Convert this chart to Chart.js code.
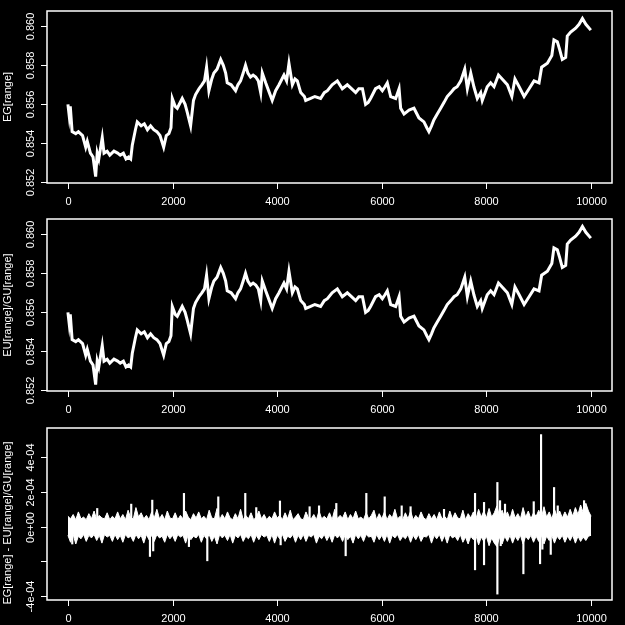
<!DOCTYPE html>
<html>
<head>
<meta charset="utf-8">
<script src="https://cdn.jsdelivr.net/npm/chart.js@4.4.1/dist/chart.umd.min.js"></script>
<style>
  html, body { margin: 0; padding: 0; background: #000; }
  canvas { display: block; }
</style>
</head>
<body>
<canvas id="c1" width="625" height="208"></canvas>
<canvas id="c2" width="625" height="209"></canvas>
<canvas id="c3" width="625" height="208"></canvas>
<script>
// ---- data ----
const xTickValues = [0, 2000, 4000, 6000, 8000, 10000];
const xTickLabels = ['0', '2000', '4000', '6000', '8000', '10000'];
const rateTickValues = [0.852, 0.854, 0.856, 0.858, 0.860];
const rateTickLabels = ['0.852', '0.854', '0.856', '0.858', '0.860'];
const diffTickValues = [-4e-4, -2e-4, 0, 2e-4, 4e-4];
const diffTickLabels = ['-4e-04', '', '0e+00', '2e-04', '4e-04'];

const egIndex = [0,25,45,80,150,200,280,340,370,430,480,530,560,590,656,690,750,800,880,950,
  1000,1060,1110,1160,1200,1230,1290,1325,1400,1460,1520,1580,1640,1700,1760,1830,1880,1930,1970,1995,
  2050,2090,2185,2240,2280,2345,2400,2440,2505,2560,2610,2650,2695,2750,2790,2850,2920,2970,3015,3045,
  3120,3205,3250,3300,3350,3395,3440,3490,3540,3590,3640,3685,3715,3780,3850,3905,3970,4035,4130,4180,
  4225,4290,4340,4385,4450,4520,4545,4640,4720,4830,4900,4960,5050,5150,5245,5340,5420,5500,5560,5630,
  5690,5740,5785,5880,5950,6010,6060,6105,6170,6265,6330,6360,6425,6520,6615,6710,6805,6860,6900,6950,
  6995,7060,7125,7190,7250,7320,7380,7440,7510,7585,7635,7700,7760,7825,7890,7920,8015,8080,8145,8230,
  8335,8400,8485,8545,8625,8720,8815,8910,9005,9055,9165,9250,9290,9355,9400,9450,9515,9545,9610,9705,
  9770,9835,9900,9995];
const egValues = [0.8560,0.8554,0.8559,0.8546,0.8545,0.8546,0.8544,0.8538,0.8541,0.8535,0.8533,0.8523,0.8535,0.8532,0.8543,0.8535,0.8536,0.8534,0.8536,0.8535,
  0.8534,0.8535,0.8532,0.8533,0.8532,0.8539,0.8547,0.8551,0.8549,0.8550,0.8547,0.8549,0.8547,0.8546,0.8544,0.8538,0.8544,0.8545,0.8548,0.8563,
  0.8559,0.8558,0.8563,0.8560,0.8556,0.8549,0.8562,0.8565,0.8568,0.8570,0.8572,0.8579,0.8567,0.8573,0.8576,0.8578,0.8583,0.8580,0.8576,0.8571,
  0.8570,0.8567,0.8570,0.8572,0.8576,0.8580,0.8576,0.8574,0.8575,0.8574,0.8572,0.8566,0.8576,0.8571,0.8566,0.8562,0.8567,0.8570,0.8575,0.8572,
  0.8581,0.8570,0.8573,0.8572,0.8566,0.8564,0.8562,0.8563,0.8564,0.8563,0.8566,0.8567,0.8570,0.8572,0.8568,0.8570,0.8568,0.8566,0.8568,0.8568,
  0.8560,0.8561,0.8563,0.8568,0.8569,0.8567,0.8569,0.8571,0.8564,0.8563,0.8568,0.8558,0.8555,0.8557,0.8558,0.8553,0.8551,0.8548,0.8546,0.8549,
  0.8552,0.8555,0.8558,0.8561,0.8564,0.8566,0.8568,0.8569,0.8572,0.8578,0.8568,0.8576,0.8569,0.8563,0.8566,0.8562,0.8569,0.8571,0.8569,0.8575,
  0.8572,0.8570,0.8564,0.8573,0.8569,0.8564,0.8568,0.8572,0.8571,0.8579,0.8581,0.8585,0.8593,0.8592,0.8588,0.8583,0.8584,0.8595,0.8597,0.8599,
  0.8601,0.8604,0.8601,0.8598];
// EU/GU ratio: visually identical to EG in the picture
const euGuValues = egValues.slice();

const bandIndex = [0,50,100,150,200,250,300,350,400,450,500,550,600,650,700,750,800,850,900,950,
  1000,1050,1100,1150,1200,1250,1300,1350,1400,1450,1500,1550,1600,1650,1700,1750,1800,1850,1900,1950,
  2000,2050,2100,2150,2200,2250,2300,2350,2400,2450,2500,2550,2600,2650,2700,2750,2800,2850,2900,2950,
  3000,3050,3100,3150,3200,3250,3300,3350,3400,3450,3500,3550,3600,3650,3700,3750,3800,3850,3900,3950,
  4000,4050,4100,4150,4200,4250,4300,4350,4400,4450,4500,4550,4600,4650,4700,4750,4800,4850,4900,4950,
  5000,5050,5100,5150,5200,5250,5300,5350,5400,5450,5500,5550,5600,5650,5700,5750,5800,5850,5900,5950,
  6000,6050,6100,6150,6200,6250,6300,6350,6400,6450,6500,6550,6600,6650,6700,6750,6800,6850,6900,6950,
  7000,7050,7100,7150,7200,7250,7300,7350,7400,7450,7500,7550,7600,7650,7700,7750,7800,7850,7900,7950,
  8000,8050,8100,8150,8200,8250,8300,8350,8400,8450,8500,8550,8600,8650,8700,8750,8800,8850,8900,8950,
  9000,9050,9100,9150,9200,9250,9300,9350,9400,9450,9500,9550,9600,9650,9700,9750,9800,9850,9900,9950,10000];
const bandUpper = [
  0.60e-4,0.45e-4,0.70e-4,0.40e-4,0.85e-4,0.45e-4,0.55e-4,0.40e-4,0.75e-4,0.45e-4,
  0.90e-4,0.40e-4,0.65e-4,0.50e-4,0.45e-4,0.80e-4,0.40e-4,0.60e-4,0.45e-4,0.85e-4,
  0.45e-4,0.70e-4,0.40e-4,0.95e-4,0.50e-4,0.45e-4,1.10e-4,0.55e-4,0.80e-4,0.45e-4,
  0.65e-4,0.40e-4,0.85e-4,0.50e-4,1.00e-4,0.45e-4,0.70e-4,0.40e-4,0.90e-4,0.50e-4,
  0.45e-4,0.80e-4,0.40e-4,0.65e-4,0.45e-4,0.90e-4,0.55e-4,0.40e-4,0.75e-4,0.50e-4,
  0.85e-4,0.45e-4,0.60e-4,0.40e-4,0.95e-4,0.50e-4,0.45e-4,1.05e-4,0.40e-4,0.70e-4,
  0.45e-4,0.85e-4,0.50e-4,0.40e-4,0.75e-4,0.45e-4,1.00e-4,0.40e-4,0.65e-4,0.45e-4,
  0.80e-4,0.40e-4,0.55e-4,0.90e-4,0.45e-4,0.70e-4,0.40e-4,0.60e-4,0.45e-4,0.85e-4,
  0.50e-4,0.65e-4,0.40e-4,0.80e-4,0.45e-4,0.95e-4,0.40e-4,0.55e-4,0.75e-4,0.45e-4,
  0.40e-4,0.85e-4,0.50e-4,0.45e-4,0.70e-4,0.40e-4,0.90e-4,0.45e-4,0.60e-4,0.45e-4,
  0.80e-4,0.40e-4,1.00e-4,0.45e-4,0.65e-4,0.50e-4,0.85e-4,0.40e-4,0.70e-4,0.45e-4,
  0.90e-4,0.45e-4,0.55e-4,0.40e-4,0.80e-4,0.45e-4,0.65e-4,0.95e-4,0.40e-4,0.75e-4,
  0.45e-4,0.85e-4,0.40e-4,0.70e-4,0.50e-4,1.00e-4,0.45e-4,0.60e-4,0.40e-4,0.80e-4,
  0.45e-4,0.90e-4,0.40e-4,0.65e-4,0.45e-4,0.85e-4,0.50e-4,0.40e-4,0.75e-4,0.45e-4,
  0.70e-4,0.40e-4,0.85e-4,0.45e-4,0.60e-4,0.40e-4,0.90e-4,0.45e-4,0.80e-4,0.50e-4,
  0.45e-4,0.95e-4,0.40e-4,0.75e-4,0.50e-4,0.85e-4,0.45e-4,1.00e-4,0.55e-4,0.90e-4,
  0.50e-4,1.05e-4,0.55e-4,0.80e-4,1.20e-4,0.60e-4,0.95e-4,0.50e-4,0.85e-4,0.45e-4,
  1.00e-4,0.50e-4,0.75e-4,0.45e-4,1.10e-4,0.55e-4,0.90e-4,0.45e-4,0.80e-4,0.60e-4,
  0.95e-4,0.50e-4,1.15e-4,0.55e-4,0.85e-4,0.45e-4,1.00e-4,0.60e-4,0.90e-4,0.50e-4,
  0.85e-4,0.55e-4,1.00e-4,0.60e-4,1.10e-4,0.70e-4,1.25e-4,0.80e-4,1.35e-4,0.90e-4,
  0.60e-4];
const bandLower = [
  -0.50e-4,-0.90e-4,-0.45e-4,-1.00e-4,-0.55e-4,-0.70e-4,-0.45e-4,-0.85e-4,-0.50e-4,-0.65e-4,
  -0.45e-4,-0.80e-4,-0.50e-4,-0.95e-4,-0.45e-4,-0.60e-4,-0.50e-4,-0.85e-4,-0.45e-4,-0.75e-4,
  -0.50e-4,-0.90e-4,-0.45e-4,-0.65e-4,-0.55e-4,-0.85e-4,-0.45e-4,-0.70e-4,-0.50e-4,-0.95e-4,
  -0.45e-4,-0.75e-4,-0.50e-4,-0.85e-4,-0.45e-4,-0.65e-4,-0.55e-4,-0.90e-4,-0.45e-4,-0.70e-4,
  -0.50e-4,-0.85e-4,-0.45e-4,-0.60e-4,-0.50e-4,-0.95e-4,-0.45e-4,-0.75e-4,-0.55e-4,-0.65e-4,
  -0.45e-4,-0.90e-4,-0.50e-4,-0.70e-4,-0.45e-4,-0.85e-4,-0.55e-4,-1.00e-4,-0.45e-4,-0.65e-4,
  -0.50e-4,-0.80e-4,-0.45e-4,-0.95e-4,-0.50e-4,-0.65e-4,-0.45e-4,-0.85e-4,-0.55e-4,-0.70e-4,
  -0.45e-4,-0.90e-4,-0.50e-4,-0.75e-4,-0.45e-4,-0.60e-4,-0.50e-4,-0.85e-4,-0.45e-4,-0.95e-4,
  -0.50e-4,-0.70e-4,-0.45e-4,-0.85e-4,-0.55e-4,-0.65e-4,-0.45e-4,-0.90e-4,-0.50e-4,-0.75e-4,
  -0.45e-4,-0.85e-4,-0.50e-4,-0.60e-4,-0.45e-4,-0.95e-4,-0.55e-4,-0.70e-4,-0.45e-4,-0.80e-4,
  -0.50e-4,-0.90e-4,-0.45e-4,-0.65e-4,-0.50e-4,-0.85e-4,-0.45e-4,-0.75e-4,-0.55e-4,-0.95e-4,
  -0.45e-4,-0.70e-4,-0.50e-4,-0.85e-4,-0.45e-4,-0.60e-4,-0.55e-4,-0.90e-4,-0.45e-4,-0.75e-4,
  -0.50e-4,-0.85e-4,-0.45e-4,-0.95e-4,-0.50e-4,-0.65e-4,-0.45e-4,-0.80e-4,-0.55e-4,-0.70e-4,
  -0.45e-4,-0.90e-4,-0.50e-4,-0.75e-4,-0.45e-4,-0.85e-4,-0.55e-4,-0.60e-4,-0.45e-4,-0.95e-4,
  -0.50e-4,-0.70e-4,-0.45e-4,-0.85e-4,-0.50e-4,-0.95e-4,-0.45e-4,-0.65e-4,-0.55e-4,-0.80e-4,
  -0.45e-4,-0.90e-4,-0.60e-4,-1.00e-4,-0.55e-4,-0.75e-4,-0.50e-4,-1.05e-4,-0.60e-4,-0.85e-4,
  -0.55e-4,-1.10e-4,-0.65e-4,-0.95e-4,-1.15e-4,-0.60e-4,-1.00e-4,-0.55e-4,-0.85e-4,-0.50e-4,
  -0.95e-4,-0.55e-4,-0.80e-4,-0.50e-4,-1.00e-4,-0.55e-4,-0.75e-4,-0.50e-4,-0.90e-4,-0.55e-4,
  -0.85e-4,-0.50e-4,-1.00e-4,-0.55e-4,-0.80e-4,-0.50e-4,-0.95e-4,-0.55e-4,-0.75e-4,-0.50e-4,
  -0.90e-4,-0.55e-4,-0.80e-4,-0.50e-4,-0.95e-4,-0.55e-4,-0.85e-4,-0.60e-4,-0.80e-4,-0.55e-4,
  -0.50e-4];

const spikeIndex = [83,560,1210,1568,1612,1630,2218,2313,2664,2874,3390,3600,4053,4066,4620,4800,5130,5309,5704,6055,
  6380,6550,7189,7782,7782,7954,7954,8209,8209,8260,8273,8355,8706,8904,9025,9044,9069,9229,9293,9363,9866];
const spikeValues = [-1.00e-4,1.05e-4,1.30e-4,-1.72e-4,1.53e-4,-1.40e-4,1.92e-4,-1.15e-4,-1.97e-4,1.72e-4,1.92e-4,1.10e-4,1.48e-4,-1.05e-4,1.15e-4,1.20e-4,1.34e-4,-1.68e-4,1.92e-4,1.72e-4,
  1.20e-4,1.15e-4,1.00e-4,1.92e-4,-2.49e-4,1.40e-4,-2.20e-4,2.55e-4,-3.89e-4,1.50e-4,-1.10e-4,1.30e-4,-2.72e-4,1.44e-4,-2.14e-4,5.31e-4,-1.30e-4,-1.60e-4,2.26e-4,1.20e-4,1.50e-4];

// ---- drawing ----
const FONT = '11px "Liberation Sans", Arial, Helvetica, sans-serif';

const rAxes = {
  id: 'rAxes',
  afterDraw(chart, args, opts) {
    const { ctx, chartArea: a, scales: { x, y } } = chart;
    ctx.save();
    ctx.strokeStyle = '#fff';
    ctx.fillStyle = '#fff';
    ctx.lineWidth = 1.5;
    ctx.strokeRect(a.left, a.top, a.right - a.left, a.bottom - a.top);
    ctx.lineWidth = 1;
    ctx.font = FONT;
    ctx.textAlign = 'center';
    ctx.textBaseline = 'middle';
    xTickValues.forEach((v, i) => {
      const px = Math.round(x.getPixelForValue(v)) + 0.5;
      ctx.beginPath();
      ctx.moveTo(px, a.bottom);
      ctx.lineTo(px, a.bottom + 6);
      ctx.stroke();
      ctx.fillText(xTickLabels[i], px, a.bottom + 19);
    });
    opts.yTicks.forEach((v, i) => {
      const py = Math.round(y.getPixelForValue(v)) + 0.5;
      ctx.beginPath();
      ctx.moveTo(a.left - 6, py);
      ctx.lineTo(a.left, py);
      ctx.stroke();
      if (opts.yLabels[i]) {
        ctx.save();
        ctx.translate(a.left - 16, py);
        ctx.rotate(-Math.PI / 2);
        ctx.fillText(opts.yLabels[i], 0, 0);
        ctx.restore();
      }
    });
    ctx.save();
    ctx.translate(8, (a.top + a.bottom) / 2 + (opts.titleShift || 0));
    ctx.rotate(-Math.PI / 2);
    ctx.fillText(opts.title, 0, 0);
    ctx.restore();
    ctx.restore();
  }
};

const bgPlugin = {
  id: 'bg',
  beforeDraw(chart) {
    const ctx = chart.ctx;
    ctx.save();
    ctx.fillStyle = '#000';
    ctx.fillRect(0, 0, chart.width, chart.height);
    ctx.restore();
  }
};

function baseOptions(yMin, yMax, yTicks, yLabels, title, padBottom, titleShift) {
  return {
    responsive: false,
    animation: false,
    events: [],
    layout: { padding: { left: 47, right: 13, top: 11, bottom: padBottom } },
    plugins: {
      legend: { display: false },
      tooltip: { enabled: false },
      filler: { propagate: false },
      rAxes: { yTicks, yLabels, title, titleShift }
    },
    scales: {
      x: { type: 'linear', min: -400, max: 10400, offset: false, display: false },
      y: { type: 'linear', min: yMin, max: yMax, display: false }
    }
  };
}

function lineSet(xs, ys) {
  return {
    type: 'line',
    data: xs.map((v, i) => ({ x: v, y: ys[i] })),
    borderColor: '#fff',
    borderWidth: 3,
    pointRadius: 0,
    tension: 0,
    fill: false
  };
}

new Chart(document.getElementById('c1'), {
  type: 'line',
  data: { datasets: [lineSet(egIndex, egValues)] },
  options: baseOptions(0.85197, 0.86078, rateTickValues, rateTickLabels, 'EG[range]', 25, 0),
  plugins: [bgPlugin, rAxes]
});

new Chart(document.getElementById('c2'), {
  type: 'line',
  data: { datasets: [lineSet(egIndex, euGuValues)] },
  options: baseOptions(0.85197, 0.86078, rateTickValues, rateTickLabels, 'EU[range]/GU[range]', 26, 0),
  plugins: [bgPlugin, rAxes]
});

new Chart(document.getElementById('c3'), {
  type: 'line',
  data: {
    datasets: [
      {
        type: 'line',
        data: bandIndex.map((v, i) => ({ x: v, y: bandUpper[i] })),
        borderColor: '#fff', backgroundColor: '#fff', borderWidth: 1,
        pointRadius: 0, tension: 0, fill: '+1'
      },
      {
        type: 'line',
        data: bandIndex.map((v, i) => ({ x: v, y: bandLower[i] })),
        borderColor: '#fff', backgroundColor: '#fff', borderWidth: 1,
        pointRadius: 0, tension: 0, fill: false
      },
      {
        type: 'bar',
        data: spikeIndex.map((v, i) => ({ x: v, y: [0, spikeValues[i]] })),
        backgroundColor: '#fff',
        borderWidth: 0,
        barThickness: 1.5,
        grouped: false
      }
    ]
  },
  options: baseOptions(-4.23e-4, 5.69e-4, diffTickValues, diffTickLabels, 'EG[range] - EU[range]/GU[range]', 25, 9),
  plugins: [bgPlugin, rAxes]
});
</script>
</body>
</html>
